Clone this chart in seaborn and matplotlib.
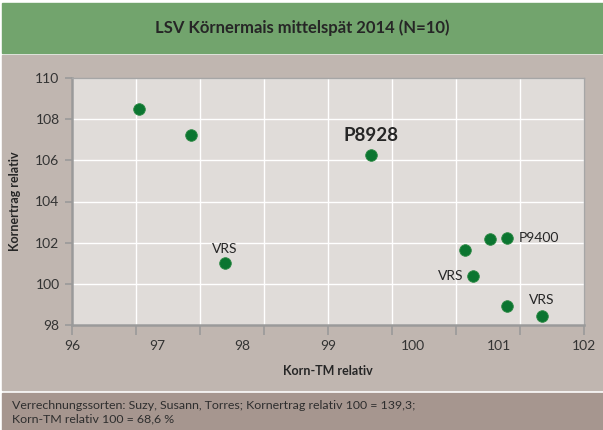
import numpy as np
import matplotlib
matplotlib.use("Agg")
import matplotlib.pyplot as plt
from matplotlib.patches import Rectangle
import seaborn as sns
import pandas as pd

# data
korn_tm = [96.79, 97.39, 97.79, 99.50, 100.60, 100.90, 101.10, 100.70, 101.10, 101.51]
ertrag = [108.49, 107.23, 101.01, 106.24, 101.64, 102.18, 102.23, 100.36, 98.93, 98.44]
sorten = ["", "", "VRS", "P8928", "", "", "P9400", "VRS", "", "VRS"]
x_ticklabels = [96, 97, 98, 99, 100, 101, 102]
y_ticks = [98, 100, 102, 104, 106, 108, 110]

title = "LSV Körnermais mittelspät 2014 (N=10)"
footer = ("Verrechnungssorten: Suzy, Susann, Torres; Kornertrag relativ 100 = 139,3;\n"
          "Korn-TM relativ 100 = 68,6 %")

df = pd.DataFrame({"Korn-TM relativ": korn_tm, "Kornertrag relativ": ertrag, "Sorte": sorten})

sns.set_theme(style="white")
plt.rcParams["font.family"] = ["Lato", "DejaVu Sans"]

W, H = 603, 430
fig = plt.figure(figsize=(W / 100, H / 100), dpi=100)
fig.patch.set_facecolor("white")


def band(x0, y0, x1, y1, color):
    # pixel box (top-left origin) -> figure rectangle
    fig.patches.append(Rectangle((x0 / W, 1 - y1 / H), (x1 - x0) / W, (y1 - y0) / H,
                                 transform=fig.transFigure, color=color, zorder=-10))


band(2, 3, W, 53, "#72a46d")
band(2, 55, W, 390, "#c0b6b0")
band(2, 393, W, H, "#a6968f")

fig.text(302 / W, 1 - 28 / H, title, ha="center", va="center",
         fontsize=12, fontweight="bold", color="#262626")
fig.text(12 / W, 1 - 412 / H, footer, ha="left", va="center",
         fontsize=8.9, color="#2e2e2e", linespacing=1.3)

ax = fig.add_axes([72 / W, 1 - 325 / H, 512 / W, 247 / H])
ax.set_facecolor("#e0dcd9")

sns.scatterplot(data=df, x="Korn-TM relativ", y="Kornertrag relativ", ax=ax,
                color="#0b7530", edgecolor="#2e8a45", linewidth=0.6, s=70, zorder=3)

ax.set_xlim(96, 102)
ax.set_ylim(98, 110)

# grid/ticks run in steps of 0.75, labels sit on whole numbers
ax.xaxis.remove_overlapping_locs = False
ax.set_xticks(np.arange(96, 102.01, 0.75))
ax.set_xticklabels([])
ax.set_xticks(x_ticklabels, minor=True)
ax.set_xticklabels([str(v) for v in x_ticklabels], minor=True)
ax.set_yticks(y_ticks)
ax.tick_params(axis="x", which="major", length=7, width=1.2, color="#9a9a9a", direction="out", bottom=True)
ax.tick_params(axis="x", which="minor", length=0, pad=11, labelsize=10, labelcolor="#333333")
ax.tick_params(axis="y", length=5, width=1.2, color="#9a9a9a", left=True, labelsize=10,
               labelcolor="#333333", pad=4)
ax.grid(True, which="major", color="white", linewidth=1.0)
ax.set_axisbelow(True)
for side in ["left", "bottom"]:
    ax.spines[side].set_color("#9a9a9a")
    ax.spines[side].set_linewidth(1.8)
for side in ["top", "right"]:
    ax.spines[side].set_color("#a6a6a6")
    ax.spines[side].set_linewidth(1.0)

ax.set_xlabel("Korn-TM relativ", fontsize=9, fontweight="bold", color="#262626", labelpad=9)
ax.set_ylabel("Kornertrag relativ", fontsize=9, fontweight="bold", color="#262626", labelpad=10)

# label placement per variety: (dx px, dy px, ha, size, weight)
label_style = {
    2: (0, 14, "center", 10, "normal"),
    3: (0, 20, "center", 13.5, "bold"),
    6: (12, 0, "left", 10, "normal"),
    7: (-10, 0, "right", 10, "normal"),
    9: (0, 16, "center", 10, "normal"),
}
for i, (dx, dy, ha, size, weight) in label_style.items():
    ax.annotate(sorten[i], (korn_tm[i], ertrag[i]), xytext=(dx * 0.72, dy * 0.72),
                textcoords="offset points", ha=ha, va="center", fontsize=size,
                fontweight=weight, color="#262626")

fig.savefig("out.png", dpi=100, facecolor=fig.get_facecolor())
